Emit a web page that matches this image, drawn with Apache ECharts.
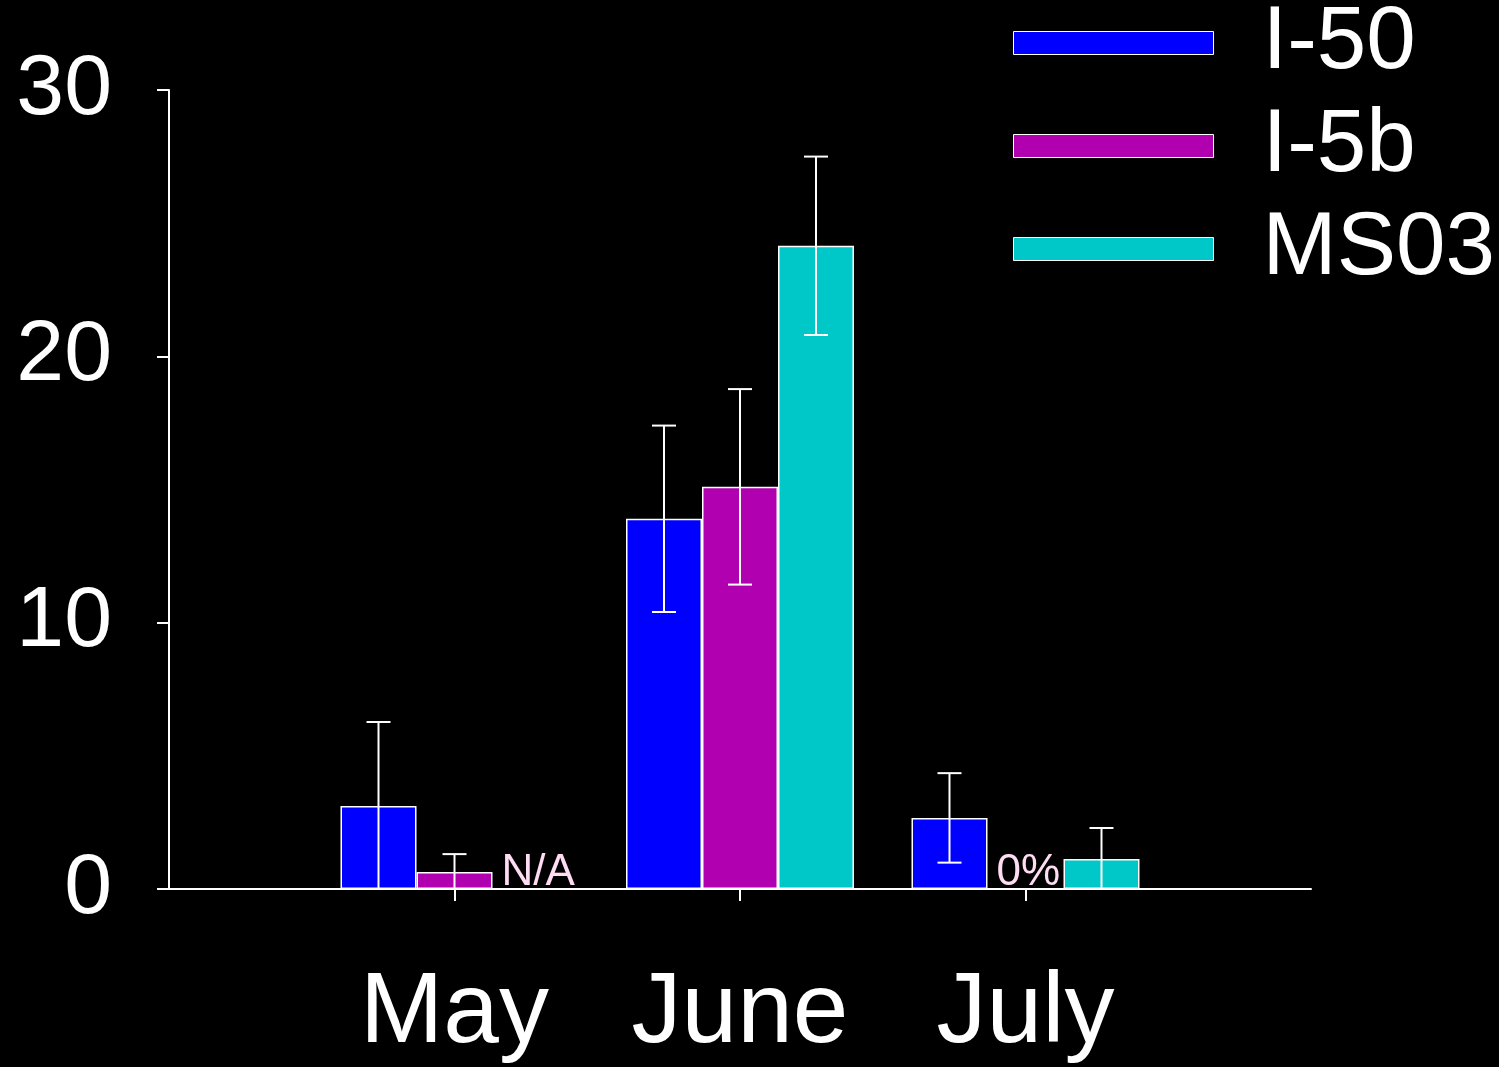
<!DOCTYPE html>
<html>
<head>
<meta charset="utf-8">
<script src="https://cdn.jsdelivr.net/npm/echarts@6/dist/echarts.min.js"></script>
<style>
  html, body { margin: 0; padding: 0; background: #000; }
  #main { width: 1499px; height: 1067px; }
</style>
</head>
<body>
<div id="main"></div>
<script>
// months sit at x = 1, 2, 3 on a 0..4 value axis
var months = ["May", "June", "July"];
var monthPos = [1, 2, 3];
var seriesNames = ["I-50", "I-5b", "MS03"];

// means and standard errors (null = no data)
var i50 = [3.12, 13.9, 2.67];
var i50Err = [3.15, 3.5, 1.68];
var i5b = [0.64, 15.1, null];
var i5bErr = [0.67, 3.67, null];
var ms03 = [null, 24.15, 1.13];
var ms03Err = [null, 3.35, 1.16];

// text notes for missing bars
var noteMonth = [1, 3];
var noteSeries = [2, 1];
var noteText = ["N/A", "0%"];

var yTicks = [0, 10, 20, 30];

var colors = ["#0000ff", "#b000b0", "#00c8c8"];
var BAR_W = 76;
var FONT = "Liberation Sans, Arial, sans-serif";

var means = [i50, i5b, ms03];
var errs = [i50Err, i5bErr, ms03Err];

var chart = echarts.init(document.getElementById("main"));

var series = [];
seriesNames.forEach(function (name, s) {
  series.push({
    name: name,
    type: "bar",
    barWidth: BAR_W,
    barGap: "0%",
    itemStyle: { color: colors[s], borderColor: "#fff", borderWidth: 1.5 },
    data: monthPos.map(function (p, i) { return [p, means[s][i]]; }),
    z: 2
  });
});

// error bars drawn on top of each bar
var errData = [];
seriesNames.forEach(function (name, s) {
  monthPos.forEach(function (p, i) {
    if (means[s][i] != null) errData.push([p, means[s][i], errs[s][i], s]);
  });
});

series.push({
  name: "err",
  type: "custom",
  z: 5,
  data: errData,
  renderItem: function (params, api) {
    var x = api.value(0), m = api.value(1), e = api.value(2), s = api.value(3);
    var off = (s - 1) * BAR_W;
    var top = api.coord([x, m + e]);
    var lowVal = Math.max(0, m - e);
    var bot = api.coord([x, lowVal]);
    var cx = top[0] + off;
    var style = { stroke: "#fff", lineWidth: 2 };
    var kids = [
      { type: "line", shape: { x1: cx, y1: top[1], x2: cx, y2: bot[1] }, style: style },
      { type: "line", shape: { x1: cx - 12, y1: top[1], x2: cx + 12, y2: top[1] }, style: style }
    ];
    if (m - e >= 0) {
      kids.push({ type: "line", shape: { x1: cx - 12, y1: bot[1], x2: cx + 12, y2: bot[1] }, style: style });
    }
    return { type: "group", children: kids };
  }
});

series.push({
  name: "notes",
  type: "custom",
  z: 5,
  data: noteMonth.map(function (p, i) { return [p, 0, noteSeries[i]]; }),
  renderItem: function (params, api) {
    var pt = api.coord([api.value(0), 0]);
    var left = pt[0] + (api.value(2) - 1) * BAR_W - BAR_W / 2;
    return {
      type: "text",
      x: left + 9,
      y: pt[1] + 6,
      style: {
        text: noteText[params.dataIndex],
        fill: "#ffdcf4",
        font: "44px " + FONT,
        align: "left",
        verticalAlign: "bottom"
      }
    };
  }
});

var option = {
  backgroundColor: "#000",
  animation: false,
  textStyle: { fontFamily: FONT },
  grid: { left: 169, right: 188, top: 90, bottom: 178 },
  legend: {
    data: seriesNames,
    orient: "vertical",
    left: 1013,
    top: -14,
    padding: 0,
    itemWidth: 200,
    itemHeight: 23,
    itemGap: -11,
    icon: "rect",
    itemStyle: { borderColor: "#fff", borderWidth: 1 },
    textStyle: { color: "#fff", fontSize: 89, lineHeight: 88, fontFamily: FONT, padding: [26, 0, 0, 44] }
  },
  xAxis: {
    type: "value",
    min: 0,
    max: 4,
    interval: 1,
    splitLine: { show: false },
    axisLine: { show: true, lineStyle: { color: "#fff", width: 2 } },
    axisTick: { show: true, length: 12, customValues: monthPos, lineStyle: { color: "#fff", width: 2 } },
    axisLabel: {
      customValues: monthPos,
      color: "#fff",
      fontSize: 100,
      fontFamily: FONT,
      margin: 75,
      formatter: function (v) { return months[monthPos.indexOf(v)] || ""; }
    }
  },
  yAxis: {
    type: "value",
    min: 0,
    max: 30,
    interval: 10,
    splitLine: { show: false },
    axisLine: { show: true, lineStyle: { color: "#fff", width: 2 } },
    axisTick: { show: true, length: 12, lineStyle: { color: "#fff", width: 2 } },
    axisLabel: {
      customValues: yTicks,
      color: "#fff",
      fontSize: 86,
      fontFamily: FONT,
      margin: 57
    }
  },
  series: series
};

chart.setOption(option);
</script>
</body>
</html>
